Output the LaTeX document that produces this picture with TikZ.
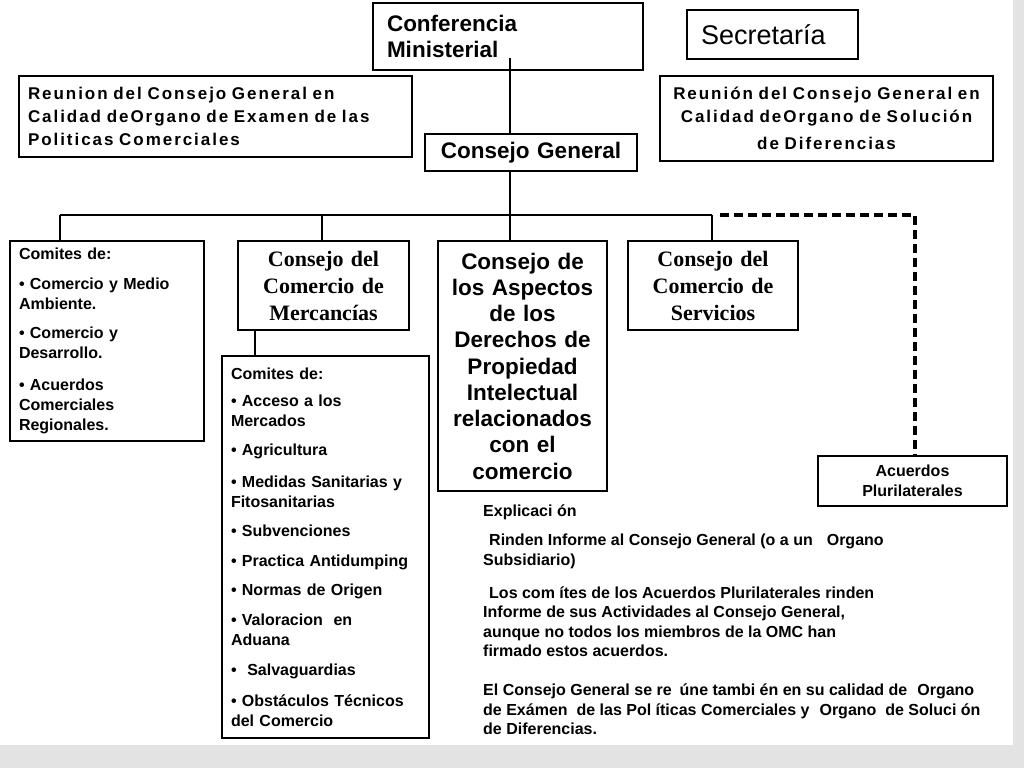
\documentclass[tikz,border=0pt]{standalone}
\usepackage{fontspec}
\setmainfont{Liberation Sans}
\newfontfamily\serifb{Liberation Serif}
\newfontfamily\spaced[LetterSpace=11.5]{Liberation Sans}
\begin{document}
\begin{tikzpicture}[x=1pt,y=-1pt,
  box/.style={draw, line width=2pt, inner sep=0pt, anchor=north west},
  conn/.style={line width=2pt},
  dashconn/.style={line width=3.5pt, dash pattern=on 9pt off 5pt},
  listfont/.style={font=\fontsize{16}{20}\selectfont\bfseries},
  bigsans/.style={font=\fontsize{22.5}{26.25}\selectfont\bfseries},
  bigserif/.style={font=\fontsize{22}{27}\selectfont\serifb\bfseries},
  reufont/.style={font=\fontsize{17}{23}\selectfont\spaced\bfseries}]
\useasboundingbox (0,0) rectangle (1024,768);
\fill[white] (0,0) rectangle (1024,768);
\fill[black!11] (1013,0) rectangle (1024,768);
\fill[black!11] (0,745) rectangle (1024,768);

% top row
\node[box, minimum width=270pt, minimum height=67pt, text width=242pt, align=left,
  bigsans] (conf) at (372,2) {Conferencia\\Ministerial};
\node[box, minimum width=171pt, minimum height=49pt, text width=143pt, align=left,
  font=\fontsize{27}{30}\selectfont] (sec) at (686,9) {Secretaría};
\node[box, minimum width=393pt, minimum height=81pt, text width=375pt, align=left,
  reufont] (reuL) at (18,75) {Reunion del Consejo General en\\Calidad deOrgano de Examen de las\\Politicas Comerciales};
\node[box, minimum width=333pt, minimum height=85pt, text width=326pt, align=center,
  reufont] (reuR) at (659,75) {Reunión del Consejo General en\\Calidad deOrgano de Solución\\[4pt]de Diferencias};
\node[box, minimum width=212pt, minimum height=37pt, text width=200pt, align=center,
  font=\fontsize{22.5}{26}\selectfont\bfseries] (cg) at (424,133) {Consejo General};

% second row
\node[box, minimum width=194pt, minimum height=200pt, text width=176pt, align=left,
  listfont] (comL) at (9,240) {Comites de:\\[10pt]• Comercio y Medio\\Ambiente.\\[9pt]• Comercio y\\Desarrollo.\\[12pt]• Acuerdos\\Comerciales\\Regionales.};
\node[box, minimum width=171pt, minimum height=89pt, text width=165pt, align=center,
  bigserif] (merc) at (237,240) {Consejo del\\Comercio de\\Mercancías};
\node[box, minimum width=169pt, minimum height=250pt, text width=165pt, align=center,
  bigsans] (asp) at (437,240) {Consejo de\\los Aspectos\\de los\\Derechos de\\Propiedad\\Intelectual\\relacionados\\con el\\comercio};
\node[box, minimum width=170pt, minimum height=89pt, text width=165pt, align=center,
  bigserif] (serv) at (627,240) {Consejo del\\Comercio de\\Servicios};
\node[box, minimum width=207pt, minimum height=382pt, text width=189pt, align=left,
  listfont] (comM) at (221,355) {Comites de:\\[7pt]• Acceso a los\\Mercados\\[9pt]• Agricultura\\[12pt]• Medidas Sanitarias y\\Fitosanitarias\\[9pt]• Subvenciones\\[10pt]• Practica Antidumping\\[9pt]• Normas de Origen\\[10pt]• Valoracion\ \ en\\Aduana\\[10pt]•\ \ Salvaguardias\\[11pt]• Obstáculos Técnicos\\del Comercio};
\node[box, minimum width=189pt, minimum height=50pt, text width=180pt, align=center,
  listfont] (acu) at (817,455) {Acuerdos\\Plurilaterales};

% explanation
\node[anchor=north west, inner sep=0pt, align=left,
  font=\fontsize{16}{19.5}\selectfont\bfseries] (expl) at (483,505)
  {Explicaci ón\\[9.5pt]
  \hspace{6pt}Rinden Informe al Consejo General (o a un\hspace{14pt}Organo\\
  Subsidiario)\\[13.5pt]
  \hspace{6pt}Los com ítes de los Acuerdos Plurilaterales rinden\\
  Informe de sus Actividades al Consejo General,\\
  aunque no todos los miembros de la OMC han\\
  firmado estos acuerdos.\\[19.5pt]
  El Consejo General se re\hspace{8pt}úne tambi én en su calidad de\hspace{10pt}Organo\\
  de Exámen\ \ de las Pol íticas Comerciales y\hspace{10pt}Organo\ \ de Soluci ón\\
  de Diferencias.};

% connectors
\coordinate (t1) at (510,58);
\coordinate (bar) at (510,215);
\coordinate (b1) at (60,215);
\coordinate (b2) at (322,215);
\coordinate (b4) at (712,215);
\coordinate (m1) at (255,329);
\coordinate (dstart) at (720,215);
\coordinate (dcorner) at (915,215);
\draw[conn] (t1) -- (t1 |- cg.north);
\draw[conn] (t1 |- cg.south) -- (bar);
\draw[conn] (b1) -- (b4);
\draw[conn] (b1) -- (b1 |- comL.north);
\draw[conn] (b2) -- (b2 |- merc.north);
\draw[conn] (bar) -- (bar |- asp.north);
\draw[conn] (b4) -- (b4 |- serv.north);
\draw[conn] (m1) -- (m1 |- comM.north);
\draw[dashconn] (dstart) -- (dcorner) -- (dcorner |- acu.north);
\end{tikzpicture}
\end{document}
